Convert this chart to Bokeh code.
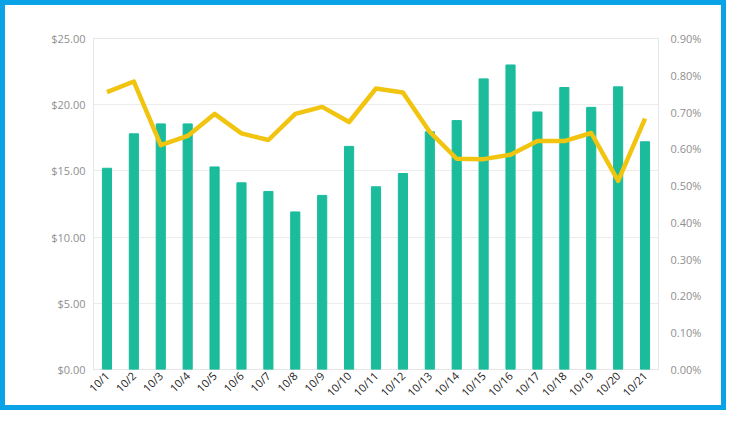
from bokeh.plotting import figure
from bokeh.models import (FactorRange, Range1d, LinearAxis, FixedTicker,
                          NumeralTickFormatter, PrintfTickFormatter)
from bokeh.embed import file_html
from bokeh.resources import INLINE
import math

dates = ["10/1", "10/2", "10/3", "10/4", "10/5", "10/6", "10/7", "10/8", "10/9", "10/10",
         "10/11", "10/12", "10/13", "10/14", "10/15", "10/16", "10/17", "10/18", "10/19",
         "10/20", "10/21"]
revenue = [15.2, 17.8, 18.55, 18.55, 15.3, 14.1, 13.45, 11.9, 13.15, 16.85,
           13.8, 14.8, 17.95, 18.8, 21.95, 23.0, 19.45, 21.3, 19.8, 21.35, 17.2]
rate_pct = [0.754, 0.783, 0.610, 0.635, 0.695, 0.642, 0.624, 0.695, 0.714, 0.673,
            0.764, 0.753, 0.646, 0.573, 0.572, 0.584, 0.621, 0.621, 0.643, 0.513, 0.682]
left_ticks = [0, 5, 10, 15, 20, 25]
right_ticks = [0.0, 0.1, 0.2, 0.3, 0.4, 0.5, 0.6, 0.7, 0.8, 0.9]

FONT = "Open Sans"
GRAY = "#8f8f8f"
BLUE = "#0BA3E8"
BW = 5
W, H = 726, 410

p = figure(width=W, height=H, output_backend="svg", toolbar_location=None,
           x_range=FactorRange(*dates, range_padding=0),
           y_range=Range1d(0, 25),
           min_border_left=88, min_border_top=33, min_border_right=73, min_border_bottom=46)
p.styles = {"border": "%dpx solid %s" % (BW, BLUE)}
p.extra_y_ranges = {"pct": Range1d(0, 0.9)}

p.vbar(x=dates, top=revenue, width=0.34, color="#1ABC9C")
p.line(x=dates, y=rate_pct, y_range_name="pct", color="#F1C40F", line_width=4.5,
       line_join="round")

p.outline_line_color = "#e6e6e6"
p.xgrid.grid_line_color = None
p.ygrid.grid_line_color = "#ececec"
p.ygrid.ticker = FixedTicker(ticks=left_ticks)

la = p.yaxis[0]
la.ticker = FixedTicker(ticks=left_ticks)
la.formatter = NumeralTickFormatter(format="$0.00")

ra = LinearAxis(y_range_name="pct", ticker=FixedTicker(ticks=right_ticks),
                formatter=PrintfTickFormatter(format="%.2f%%"))
p.add_layout(ra, "right")

xa = p.xaxis[0]
for ax in (la, ra, xa):
    ax.axis_line_color = None
    ax.major_tick_line_color = None
    ax.minor_tick_line_color = None
    ax.major_tick_out = 0
    ax.major_tick_in = 0
    ax.minor_tick_out = 0
    ax.minor_tick_in = 0
    ax.axis_label_standoff = 0
    ax.major_label_text_font = FONT
    ax.major_label_text_font_size = "11px"
    ax.major_label_text_color = GRAY
la.major_label_standoff = 8
ra.major_label_standoff = 12

xa.major_label_orientation = math.pi / 4
xa.major_label_text_color = "#222222"
xa.major_label_standoff = 4

open("out.html", "w").write(file_html(p, INLINE))
